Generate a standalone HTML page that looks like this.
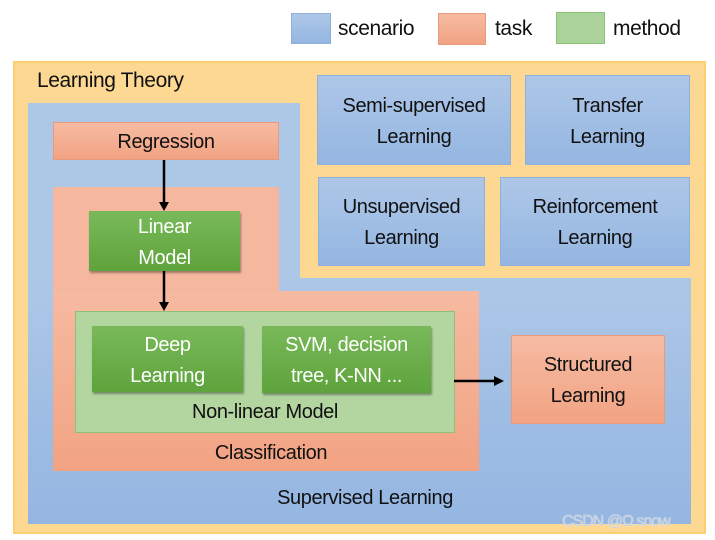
<!DOCTYPE html>
<html><head><style>
body{margin:0;width:715px;height:540px;background:#fff;position:relative;overflow:hidden;font-family:"Liberation Sans",sans-serif;color:#111}
div{position:absolute;box-sizing:border-box}
.b{background:linear-gradient(#aec7e8,#94b6e1);border:1px solid #8fb0db}
.t{background:linear-gradient(#f6bba3,#f2a383);border:1px solid #e89a7a}
.g{background:linear-gradient(#79b95a,#5ea33c);color:#fff;box-shadow:1px 2px 2px rgba(0,0,0,.35)}
.c{display:flex;align-items:center;justify-content:center;text-align:center;font-size:20px;line-height:31px;letter-spacing:-0.4px;padding-top:3px}
.l{font-size:20px;letter-spacing:-0.4px;white-space:nowrap}
</style></head><body>
<div class="b" style="left:291px;top:13px;width:40px;height:31px"></div>
<div class="l" style="left:338px;top:17px;font-size:21px">scenario</div>
<div class="t" style="left:438px;top:13px;width:48px;height:32px"></div>
<div class="l" style="left:495px;top:17px;font-size:21px">task</div>
<div style="left:556px;top:12px;width:49px;height:32px;background:#abd29a;border:1px solid #8cc278"></div>
<div class="l" style="left:613px;top:17px;font-size:21px">method</div>

<div style="left:13px;top:61px;width:693px;height:473px;background:#fdd893;border:2px solid #fbd070"></div>
<div class="l" style="left:37px;top:69px;font-size:21px">Learning Theory</div>
<div style="left:28px;top:103px;width:272px;height:180px;background:#adc7e7"></div>
<div style="left:28px;top:278px;width:663px;height:246px;background:linear-gradient(#adc7e7,#94b6e1)"></div>
<div class="b c" style="left:317px;top:75px;width:194px;height:90px">Semi-supervised<br>Learning</div>
<div class="b c" style="left:525px;top:75px;width:165px;height:90px">Transfer<br>Learning</div>
<div class="b c" style="left:318px;top:177px;width:167px;height:89px">Unsupervised<br>Learning</div>
<div class="b c" style="left:500px;top:177px;width:190px;height:89px">Reinforcement<br>Learning</div>

<div class="t c" style="left:53px;top:122px;width:226px;height:38px">Regression</div>
<div style="left:53px;top:187px;width:226px;height:284px;background:#f5b79e"></div>
<div style="left:53px;top:291px;width:426px;height:180px;background:linear-gradient(#f6baa1,#f2a383)"></div>
<div class="g c" style="left:89px;top:211px;width:151px;height:60px">Linear<br>Model</div>
<div style="left:75px;top:311px;width:380px;height:122px;background:#b3d5a0;border:1px solid #8cc278"></div>
<div class="g c" style="left:92px;top:326px;width:151px;height:66px">Deep<br>Learning</div>
<div class="g c" style="left:262px;top:326px;width:169px;height:67px">SVM, decision<br>tree, K-NN ...</div>
<div class="l" style="left:75px;width:380px;text-align:center;top:401px">Non-linear Model</div>
<div class="l" style="left:53px;width:436px;text-align:center;top:442px">Classification</div>
<div class="t c" style="left:511px;top:335px;width:154px;height:89px">Structured<br>Learning</div>
<div class="l" style="left:28px;width:674px;text-align:center;top:487px">Supervised Learning</div>
<div class="l" style="left:562px;top:513px;font-size:16px;color:#c8d0dc;letter-spacing:-1px;text-shadow:0 0 1px #fff">CSDN @Ω snow</div>

<svg style="position:absolute;left:0;top:0" width="715" height="540">
<g stroke="#000" stroke-width="2.5"><line x1="164" y1="160" x2="164" y2="203"/><line x1="164" y1="271" x2="164" y2="303"/><line x1="454" y1="381" x2="495" y2="381"/></g>
<g fill="#000"><polygon points="159,202 169,202 164,211"/><polygon points="159,302 169,302 164,311"/><polygon points="494,376 494,386 504,381"/></g>
</svg>
</body></html>
